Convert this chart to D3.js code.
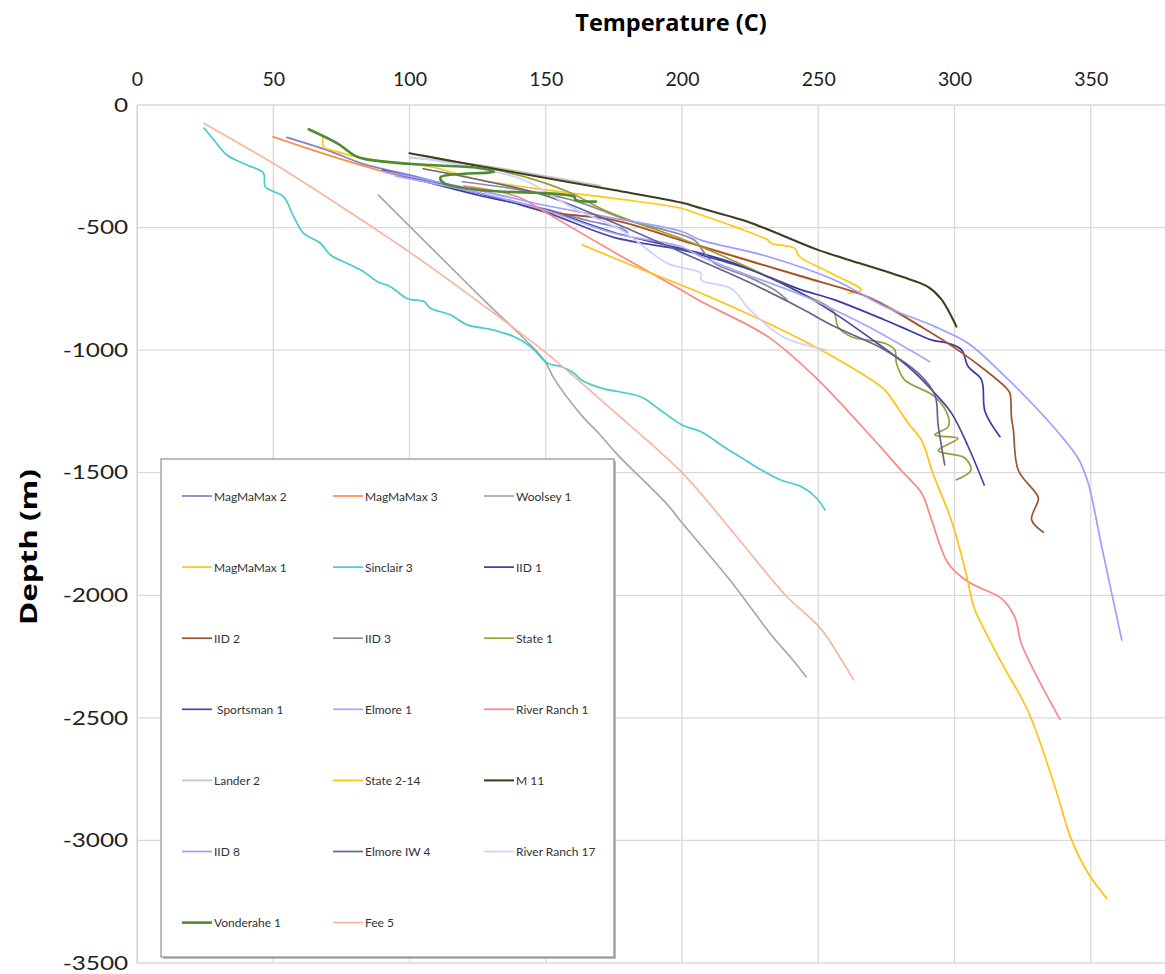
<!DOCTYPE html>
<html>
<head>
<meta charset="utf-8">
<script src="https://cdn.jsdelivr.net/npm/d3@7"></script>
<style>
  html, body { margin: 0; padding: 0; background: #fff; }
  svg { display: block; }
  text { font-family: Lato, "Open Sans", "Liberation Sans", sans-serif; }
</style>
</head>
<body>
<svg id="chart" width="1165" height="974"></svg>
<script>
// Temperature–depth profiles of geothermal wells: [temperature °C, depth m]
const xTicks = [0, 50, 100, 150, 200, 250, 300, 350];
const xGrid = [0, 50, 100, 150, 200, 250, 300, 350, 400];
const yTicks = [0, -500, -1000, -1500, -2000, -2500, -3000, -3500];

const wellNames = [
  "MagMaMax 2", "MagMaMax 3", "Woolsey 1",
  "MagMaMax 1", "Sinclair 3", "IID 1",
  "IID 2", "IID 3", "State 1",
  "Sportsman 1", "Elmore 1", "River Ranch 1",
  "Lander 2", "State 2-14", "M 11",
  "IID 8", "Elmore IW 4", "River Ranch 17",
  "Vonderahe 1", "Fee 5"
];

const wellColors = [
  "#8383c4", "#ff8a47", "#a8a8a8",
  "#ffc90e", "#45cccc", "#3a3aa6",
  "#a0522d", "#8c8c8c", "#9c9c38",
  "#4646a0", "#a6a6ff", "#ff8585",
  "#c4c4c4", "#ffc20e", "#3e3e1e",
  "#9e9eff", "#64648e", "#cfcfff",
  "#4e8c32", "#f7b6a0"
];

const magmamax2 = [[55,-132],[70,-185],[83,-240],[100,-285],[126,-360],[150,-425],[165,-470],[178,-505],[180,-520]];
const magmamax3 = [[50,-130],[62,-175],[75.8,-224],[89.3,-268],[100,-300],[126,-360],[150.6,-435],[175,-468],[199.6,-550],[224,-632],[243.8,-700],[268.3,-782],[280,-850],[287.9,-904]];
const woolsey1 = [[88.6,-368],[100.2,-496],[126,-782],[149.4,-1040],[153,-1115],[163,-1264],[170,-1346],[176.4,-1427],[194.7,-1631],[199.6,-1699],[218,-1944],[232.7,-2161],[240,-2255],[245.6,-2333]];
const magmamax1 = [[68.3,-129],[68.5,-170],[73.4,-190],[83.2,-218],[107.7,-252],[126,-306],[150.6,-347],[175.1,-381],[199.6,-421],[207,-449],[219.2,-496],[231.5,-551],[232.7,-564],[241.3,-584],[243.1,-618],[253.6,-680],[265.8,-754],[260.9,-768]];
const sinclair3 = [[24.6,-94],[28,-140],[33,-204],[40.3,-245],[46.4,-277],[47,-333],[50.1,-353],[53.8,-374],[57.5,-455],[61.1,-523],[67.3,-564],[71,-612],[77.1,-646],[83.2,-680],[88.1,-720],[93,-741],[99.1,-789],[105.3,-802],[107.7,-829],[115,-856],[121.2,-897],[129.8,-915],[138.4,-945],[144.5,-986],[150.6,-1053],[155.5,-1067],[160.3,-1093],[163,-1121],[170,-1154],[185,-1191],[192,-1244],[200,-1305],[207,-1333],[216,-1399],[222,-1440],[229,-1488],[236,-1529],[244,-1558],[249,-1599],[252.5,-1652]];
const iid1 = [[95,-280],[126,-370],[150.6,-430],[175,-520],[207,-605],[219.2,-646],[231.5,-700],[243.8,-754],[256,-795],[274.4,-877],[283,-918],[291.5,-958],[297.7,-972],[302.6,-999],[305,-1067],[309.9,-1121],[311.2,-1250],[316.7,-1353]];
const iid2 = [[140,-405],[150.6,-437],[175,-470],[199.6,-552],[224,-634],[251,-722],[268.3,-784],[287.9,-906],[301.3,-1000],[311.2,-1081],[318.5,-1149],[320.3,-1175],[320.9,-1275],[321.6,-1325],[323.4,-1490],[329.5,-1578],[330.8,-1605],[328.3,-1692],[332.6,-1743]];
const iid3 = [[119.4,-313],[140,-345],[160.4,-390],[180,-470],[204.5,-551],[208,-600],[211.9,-646],[224.1,-700],[233.9,-754],[238.5,-795]];
const state1 = [[105,-205],[142,-292],[158,-353],[172.7,-435],[199.6,-545],[207,-578],[231.5,-700],[243.8,-768],[253.6,-822],[256,-850],[257.2,-904],[262.1,-945],[274.4,-972],[278.1,-999],[278.7,-1053],[281.7,-1121],[292.8,-1190],[297.7,-1271],[297.7,-1312],[292.8,-1346],[301.3,-1360],[294,-1410],[303.8,-1440],[306,-1490],[300.7,-1529]];
const sportsman1 = [[90,-265],[126,-362],[150.6,-440],[175,-540],[199.6,-590],[207,-612],[225.4,-673],[243.8,-768],[256,-850],[268.3,-945],[283,-1067],[292.8,-1176],[298.9,-1257],[305,-1393],[310.9,-1550]];
const elmore1 = [[95,-290],[126,-360],[150,-430],[175,-523],[199.6,-578],[207,-618],[219.2,-673],[243.8,-775],[256,-836],[268.3,-904],[290.9,-1047]];
const riverRanch1 = [[120,-330],[139.6,-374],[150.6,-442],[175,-600],[199.6,-754],[207,-802],[231.5,-945],[249.9,-1121],[268.3,-1339],[280.5,-1491],[287.9,-1583],[291.5,-1690],[297.7,-1870],[305,-1945],[317.3,-2014],[322.2,-2091],[324.6,-2199],[338.7,-2506]];
const lander2 = [[100,-215],[126,-245],[150,-290],[170,-330]];
const state214 = [[163.5,-571],[185,-670],[207,-768],[231.5,-890],[251,-999],[269.5,-1121],[274.4,-1162],[283,-1298],[288,-1370],[292,-1500],[299,-1700],[304,-1900],[306.3,-2014],[307.5,-2060],[317,-2270],[327.1,-2475],[336.9,-2783],[343,-2999],[349.2,-3137],[355.9,-3237]];
const m11 = [[100,-197],[125,-248],[150.6,-299],[175,-347],[199.6,-398],[207,-421],[224.1,-476],[236.4,-530],[249.9,-591],[265,-645],[280.5,-700],[290,-740],[295,-790],[300.7,-904]];
const iid8 = [[90,-270],[126,-350],[150,-410],[175.1,-462],[199.6,-515],[207,-551],[231.5,-618],[256,-714],[274.4,-822],[292.8,-904],[305,-972],[317.3,-1094],[329.5,-1230],[339.3,-1352],[345.5,-1444],[349,-1540],[354,-1800],[361.4,-2183]];
const elmoreIW4 = [[105,-260],[126,-306],[150,-370],[175,-480],[199.6,-600],[224,-720],[243.8,-830],[256,-904],[274.4,-999],[286.7,-1094],[292.8,-1183],[294,-1306],[296.4,-1468]];
const riverRanch17 = [[100,-211],[126,-260],[142,-306],[160,-420],[177.6,-510],[194.7,-646],[207,-686],[207,-714],[218,-748],[225,-836],[237,-945],[253,-999]];
const vonderahe1 = [[63,-99],[73.4,-156],[80.8,-211],[90.6,-231],[107.7,-245],[126,-258],[131,-272],[111.4,-295],[112.6,-318],[126,-347],[160.4,-374],[161,-387],[168.4,-394]];
const fee5 = [[24.6,-75],[50,-238],[75,-415],[100,-600],[125,-800],[150,-1010],[175,-1250],[200,-1500],[220,-1760],[238,-2000],[251,-2137],[258.5,-2263],[263,-2345]];

const wellData = [
  magmamax2, magmamax3, woolsey1,
  magmamax1, sinclair3, iid1,
  iid2, iid3, state1,
  sportsman1, elmore1, riverRanch1,
  lander2, state214, m11,
  iid8, elmoreIW4, riverRanch17,
  vonderahe1, fee5
];

const wells = wellNames.map((name, i) => ({ name, color: wellColors[i], values: wellData[i] }));

const svg = d3.select("#chart");
const plot = { left: 137, top: 105, right: 1227, bottom: 963 };

const x = d3.scaleLinear().domain([0, 400]).range([plot.left, plot.right]);
const y = d3.scaleLinear().domain([0, -3500]).range([plot.top, plot.bottom]);

svg.append("defs").append("clipPath").attr("id", "plotClip")
  .append("rect")
  .attr("x", plot.left).attr("y", plot.top)
  .attr("width", plot.right - plot.left).attr("height", plot.bottom - plot.top);

// Grid
const grid = svg.append("g");
grid.selectAll("line.v").data(xGrid).join("line")
  .attr("x1", d => x(d)).attr("x2", d => x(d))
  .attr("y1", plot.top).attr("y2", plot.bottom)
  .attr("stroke", "#d9d9d9").attr("stroke-width", 1.3);
grid.selectAll("line.h").data(yTicks).join("line")
  .attr("x1", plot.left).attr("x2", plot.right)
  .attr("y1", d => y(d)).attr("y2", d => y(d))
  .attr("stroke", "#d9d9d9").attr("stroke-width", 1.3);

// Axes (labels only)
const xAxis = svg.append("g")
  .attr("transform", `translate(0,${plot.top})`)
  .call(d3.axisTop(x).tickValues(xTicks).tickSize(0).tickPadding(19));
xAxis.select(".domain").remove();
xAxis.selectAll("text").attr("font-size", 19.5).attr("fill", "#222")
  .style("font-family", "Lato, 'Open Sans', sans-serif");

const yAxis = svg.append("g")
  .attr("transform", `translate(${plot.left},0)`)
  .call(d3.axisLeft(y).tickValues(yTicks).tickSize(0).tickPadding(7).tickFormat(d => String(d)));
yAxis.select(".domain").attr("stroke", "#d9d9d9").attr("stroke-width", 1.3);
yAxis.selectAll("text").attr("font-size", 19.5).attr("fill", "#222")
  .attr("transform", "scale(1.25,1)")
  .style("font-family", "Lato, 'Open Sans', sans-serif");

// Axis titles
svg.append("text")
  .attr("x", 671).attr("y", 31)
  .attr("text-anchor", "middle")
  .attr("font-size", 23.5).attr("font-weight", "bold").attr("fill", "#000")
  .style("font-family", "'Open Sans', Lato, sans-serif")
  .text("Temperature (C)");

svg.append("text")
  .attr("transform", `translate(37,${(plot.top + plot.bottom) / 2 + 13}) rotate(-90)`)
  .attr("text-anchor", "middle")
  .attr("font-size", 23).attr("font-weight", "bold").attr("fill", "#000")
  .attr("textLength", 156).attr("lengthAdjust", "spacingAndGlyphs")
  .style("font-family", "'Open Sans', Lato, sans-serif")
  .text("Depth (m)");

// Well profiles
const line = d3.line()
  .x(d => x(d[0]))
  .y(d => y(d[1]))
  .curve(d3.curveCatmullRom.alpha(0.5));

const widthOf = name => name === "Vonderahe 1" ? 2.6 : (name === "M 11" ? 2.1 : 1.7);

svg.append("g").attr("clip-path", "url(#plotClip)")
  .selectAll("path").data(wells).join("path")
  .attr("d", d => line(d.values))
  .attr("fill", "none")
  .attr("stroke", d => d.color)
  .attr("stroke-width", d => widthOf(d.name))
  .attr("stroke-linejoin", "round")
  .attr("stroke-linecap", "round");

// Legend
const legend = { x: 161, y: 459, w: 453, h: 498 };
svg.append("rect")
  .attr("x", legend.x + 2).attr("y", legend.y + 2)
  .attr("width", legend.w).attr("height", legend.h)
  .attr("fill", "#bdbdbd");
svg.append("rect")
  .attr("x", legend.x).attr("y", legend.y)
  .attr("width", legend.w).attr("height", legend.h)
  .attr("fill", "#fff").attr("stroke", "#7a7a7a").attr("stroke-width", 1);

const colX = [182, 333, 484];
const rowY0 = 496, rowStep = 71.1;
const items = svg.append("g").selectAll("g").data(wells).join("g")
  .attr("transform", (d, i) => `translate(${colX[i % 3]},${rowY0 + Math.floor(i / 3) * rowStep})`);
items.append("line")
  .attr("x1", 0).attr("x2", 30).attr("y1", 0).attr("y2", 0)
  .attr("stroke", d => d.color)
  .attr("stroke-width", d => widthOf(d.name));
items.append("text")
  .attr("x", d => d.name === "Sportsman 1" ? 35 : 32).attr("y", 4.5)
  .attr("font-size", 12).attr("fill", "#333")
  .text(d => d.name);
</script>
</body>
</html>
